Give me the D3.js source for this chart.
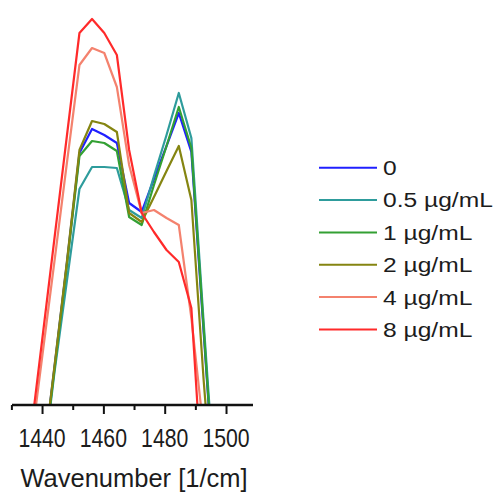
<!DOCTYPE html>
<html>
<head>
<meta charset="utf-8">
<script src="https://cdn.jsdelivr.net/npm/d3@7"></script>
<style>
  html, body { margin: 0; padding: 0; background: #fff; }
  svg { display: block; }
  text { font-family: "Liberation Sans", Arial, sans-serif; fill: #1c1c1c; }
</style>
</head>
<body>
<svg id="chart" width="499" height="492"></svg>
<script>
// ---- data ----
const wavenumbers = [1436.0, 1440.0, 1444.1, 1448.1, 1452.2, 1456.3, 1460.3, 1464.4,
                     1468.4, 1472.5, 1476.5, 1480.6, 1484.6, 1488.7, 1492.7, 1496.8];
const seriesNames = ["0", "0.5 µg/mL", "1 µg/mL", "2 µg/mL", "4 µg/mL", "8 µg/mL"];
const s0   = [-0.425, -0.1625, 0.0975, 0.355, 0.63, 0.69, 0.675, 0.655, 0.505, 0.4825, 0.565, 0.6475, 0.73, 0.6325, 0.1825, -0.275];
const s05  = [-0.425, -0.175, 0.085, 0.31, 0.54, 0.595, 0.595, 0.5925, 0.4875, 0.4675, 0.5725, 0.675, 0.78, 0.6675, 0.2075, -0.25];
const s1   = [-0.4325, -0.1675, 0.0925, 0.35, 0.6225, 0.66, 0.655, 0.635, 0.47, 0.45, 0.55, 0.6475, 0.745, 0.6425, 0.1925, -0.275];
const s2   = [-0.425, -0.1625, 0.1, 0.3575, 0.6375, 0.71, 0.7025, 0.6825, 0.48, 0.4575, 0.52, 0.585, 0.6475, 0.5125, 0.0625, -0.3375];
const s4   = [-0.1225, 0.1175, 0.3625, 0.605, 0.85, 0.8925, 0.88, 0.795, 0.6, 0.48, 0.4875, 0.4675, 0.45, 0.2175, -0.065, -0.3875];
const s8   = [-0.0925, 0.16, 0.42, 0.6725, 0.93, 0.965, 0.93, 0.875, 0.6375, 0.48, 0.4325, 0.3875, 0.3575, 0.2425, -0.25, -0.4875];
const seriesValues = [s0, s05, s1, s2, s4, s8];
const colors = ["#2020ff", "#2e9c9c", "#33a033", "#858511", "#f4826e", "#ff2a2a"];
const majorTicks = [1440, 1460, 1480, 1500];
const minorTicks = [1430, 1450, 1470, 1490];
const xTitle = "Wavenumber [1/cm]";

// ---- layout ----
const svg = d3.select("#chart");
const axisY = 405, left = 12, right = 253;
const x = d3.scaleLinear().domain([1430.2, 1508.8]).range([left, right]);
const y = d3.scaleLinear().domain([0, 1]).range([axisY, 5]);

svg.append("defs").append("clipPath").attr("id", "clip")
  .append("rect").attr("x", left).attr("y", 0).attr("width", right - left).attr("height", axisY - 0);

const line = d3.line().x(d => x(d[0])).y(d => y(d[1]));
const plot = svg.append("g").attr("clip-path", "url(#clip)");
seriesValues.forEach((vals, i) => {
  plot.append("path")
    .datum(wavenumbers.map((w, j) => [w, vals[j]]))
    .attr("d", line)
    .attr("fill", "none")
    .attr("stroke", colors[i])
    .attr("stroke-width", 2.2)
    .attr("stroke-linejoin", "round");
});

// ---- x axis ----
const gAxis = svg.append("g").attr("transform", `translate(0,${axisY})`);
gAxis.call(d3.axisBottom(x).tickValues(majorTicks).tickSize(9).tickFormat(""))
  .call(g => g.select(".domain").remove())
  .call(g => g.selectAll(".tick line").attr("stroke", "#111").attr("stroke-width", 2));
const gMinor = svg.append("g").attr("transform", `translate(0,${axisY})`);
gMinor.call(d3.axisBottom(x).tickValues(minorTicks).tickSize(5).tickFormat(""))
  .call(g => g.select(".domain").remove())
  .call(g => g.selectAll(".tick line").attr("stroke", "#111").attr("stroke-width", 2));
svg.append("line").attr("x1", left).attr("x2", right).attr("y1", axisY).attr("y2", axisY)
  .attr("stroke", "#111").attr("stroke-width", 2.5);

// tick labels
majorTicks.forEach(t => {
  svg.append("g").attr("transform", `translate(${x(t)},446.5) scale(0.85,1)`)
    .append("text").attr("text-anchor", "middle").style("font-size", "25px").text(t);
});

// axis title
svg.append("text").attr("x", 134).attr("y", 487).attr("text-anchor", "middle")
  .style("font-size", "25.5px").text(xTitle);

// ---- legend ----
const legY0 = 167.7, legStep = 32.35;
seriesNames.forEach((name, i) => {
  const yy = legY0 + i * legStep;
  svg.append("line").attr("x1", 319).attr("x2", 377).attr("y1", yy).attr("y2", yy)
    .attr("stroke", colors[i]).attr("stroke-width", 2);
  svg.append("g").attr("transform", `translate(383,${yy + 7.4}) scale(1.2,1)`)
    .append("text").style("font-size", "20.5px").text(name);
});
</script>
</body>
</html>
